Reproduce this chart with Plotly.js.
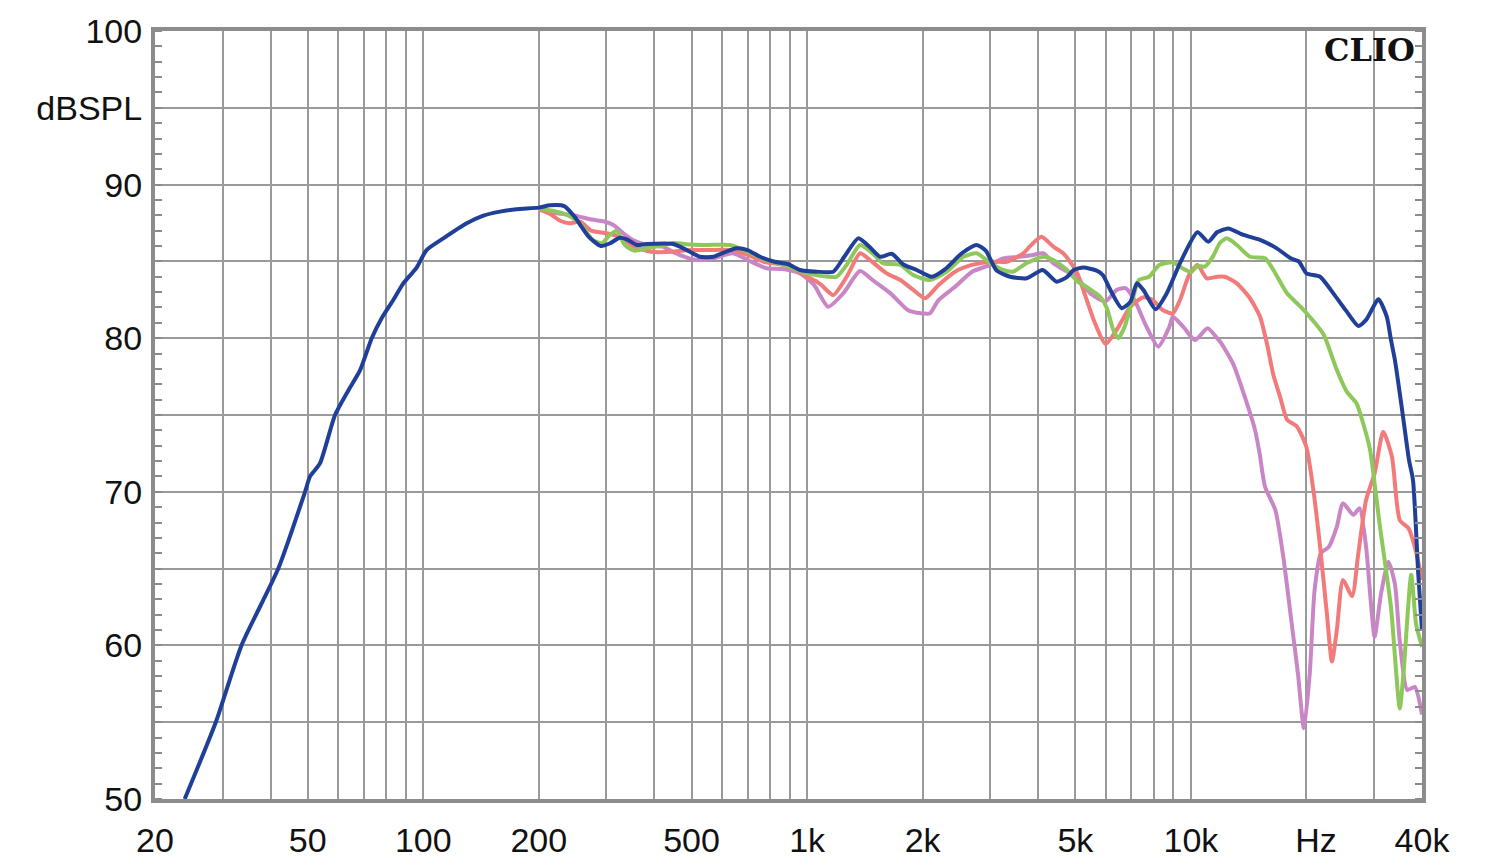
<!DOCTYPE html>
<html>
<head>
<meta charset="utf-8">
<script src="https://cdn.plot.ly/plotly-3.0.1.min.js"></script>
<style>html,body{margin:0;padding:0;background:#fff;}#chart{width:1500px;height:866px;}</style>
</head>
<body>
<div id="chart"></div>
<script>
// Frequencies (Hz) and SPL (dB)
const blueFreq = [23.9,28.8,33.6,41.9,49.2,50.7,53.8,58.9,63.8,68.4,73.4,77.9,83.6,88.7,96.1,102,112.8,129.8,143.4,158.5,175,200,213.9,233,248,270,290,306.6,325,339,360,382,448,485.6,526,570,600,656,700,754,823,890,958,1059,1170,1250,1360,1460,1550,1662,1781,1930,2112,2290,2530,2766,2920,3120,3380,3734,4110,4470,4760,4950,5244,5682,5900,6200,6604,6960,7226,7520,8090,8650,9372,10400,11100,11700,12520,13700,15140,16740,18200,19100,20000,21700,23500,25470,27300,28600,30800,32380,33200,34000,35500,37000,37900,39100,40000];
const blueDb = [50.0,55.0,60.0,65.0,70.0,71.0,71.85,75.0,76.6,77.9,80.0,81.3,82.5,83.57,84.6,85.74,86.5,87.48,87.98,88.24,88.4,88.5,88.65,88.6,87.9,86.6,86.0,86.18,86.54,86.44,86.07,86.13,86.13,85.74,85.3,85.3,85.53,85.85,85.74,85.3,84.98,84.83,84.44,84.33,84.33,85.3,86.5,85.9,85.3,85.5,84.8,84.44,84.0,84.5,85.53,86.07,85.7,84.4,84.0,83.9,84.44,83.68,84.0,84.44,84.6,84.4,84.1,83.03,81.95,82.38,83.57,83.14,81.88,82.92,84.9,86.9,86.28,86.9,87.15,86.72,86.4,85.85,85.2,85.0,84.22,84.0,82.92,81.73,80.8,81.19,82.53,81.4,79.9,78.58,75.33,72.07,70.76,64.7,61.0];

const greenFreq = [200,217,237,256,276,292,306,319,335,354,382,413,448,496,546,630,700,785,890,1000,1135,1195,1268,1374,1480,1575,1750,1890,2090,2312,2553,2766,3000,3240,3440,3734,4126,4380,4760,5060,5300,5590,5800,6040,6280,6470,6720,7040,7320,7780,8270,8970,9580,10000,10400,10860,11400,11900,12400,13170,14250,15600,16400,17800,19300,20900,22200,24000,25470,27000,28100,29300,31000,33200,35000,35800,37500,38600,40000];
const greenDb = [88.45,88.3,88.02,87.48,86.4,86.18,86.72,87.0,86.07,85.7,85.85,86.0,86.2,86.1,86.07,86.07,85.63,85.09,84.7,84.22,84.0,84.0,84.77,86.07,85.53,84.88,84.77,84.11,83.79,84.33,85.3,85.53,84.9,84.44,84.33,84.9,85.3,85.09,84.44,83.7,83.4,83.0,82.7,81.95,80.53,80.0,80.75,82.48,83.79,84.0,84.77,84.94,84.5,84.3,84.7,84.66,85.3,86.2,86.5,86.07,85.3,85.2,84.44,82.92,82.05,81.08,80.21,77.93,76.52,75.76,74.46,72.72,67.95,62.5,55.9,58.2,64.6,61.4,59.9];

const redFreq = [200,214,228,241,256,274,300,325,354,392,448,496,546,640,700,770,865,958,1000,1060,1090,1170,1268,1374,1458,1612,1750,1890,2030,2200,2430,2690,3000,3310,3660,3800,4080,4380,4650,4840,5060,5300,5620,5990,6400,6960,7520,7960,8440,8970,9372,9890,10400,11000,11700,12240,13170,14250,15140,15770,16400,17070,17800,18900,20000,20900,21700,22600,23300,24000,24900,26300,27300,28600,30100,31700,33400,35000,36900,38300,40000];
const redDb = [88.4,88.08,87.63,87.48,87.6,87.0,86.83,86.6,85.96,85.63,85.63,85.74,85.74,85.74,85.42,84.98,84.77,84.33,84.0,83.68,83.46,82.81,84.0,85.53,85.09,84.22,83.79,83.14,82.6,83.46,84.33,84.77,84.98,84.98,85.53,85.96,86.6,85.96,85.53,84.98,84.22,82.8,81.0,79.62,80.53,82.05,82.66,82.48,81.84,81.62,82.5,84.11,84.77,83.9,84.0,84.0,83.57,82.6,81.4,79.67,77.6,76.2,74.7,74.24,72.9,69.9,66.43,62.1,58.95,61.0,64.26,63.2,66.0,69.47,71.2,73.91,72.29,68.16,67.62,66.43,64.26];

const purpleFreq = [200,215,251,272,296,313,332,354,382,420,465,514,570,640,715,785,865,958,1040,1135,1242,1374,1480,1650,1830,1980,2090,2200,2430,2690,3000,3240,3580,3880,4126,4380,4650,5060,5480,5990,6400,6770,7130,7660,8220,8790,8970,9580,10250,11050,11700,12000,12900,13900,14700,15100,15600,16600,17400,18300,19000,19700,20400,21000,21800,22900,24000,24900,26500,27500,28600,29500,30100,31300,32700,34000,35000,36600,38300,40000];
const purpleDb = [88.4,88.2,87.96,87.74,87.6,87.37,86.83,86.35,86.07,85.96,85.42,85.09,85.2,85.53,84.98,84.55,84.5,84.22,83.5,82.05,82.92,84.37,83.79,82.92,81.84,81.62,81.62,82.48,83.35,84.33,84.77,85.2,85.3,85.42,85.53,84.88,84.48,83.9,82.9,82.4,83.14,83.25,82.48,80.75,79.45,80.75,81.4,80.7,79.88,80.64,80.0,79.67,78.3,75.98,74.0,72.5,70.33,68.8,65.78,61.44,58.18,54.6,58.18,63.6,66.0,66.43,67.73,69.25,68.5,68.93,66.43,62.5,60.56,63.4,65.45,64.0,60.3,57.1,57.3,55.5];

const xTickVals = [20,50,100,200,500,1000,2000,5000,10000,20000,40000];
const xTickText = ['20','50','100','200','500','1k','2k','5k','10k','\u00a0\u00a0Hz','40k'];
const xMinorVals = [30,40,60,70,80,90,300,400,600,700,800,900,3000,4000,6000,7000,8000,9000,30000];
const yTickVals = [50,55,60,65,70,75,80,85,90,95,100];
const yTickText = ['50','','60','','70','','80','','90','dBSPL','100'];

const mk = (x, y, color) => ({
  x: x, y: y, type: 'scatter', mode: 'lines',
  line: {color: color, width: 4, shape: 'spline', smoothing: 0.6},
  hoverinfo: 'skip', showlegend: false
});

const traces = [
  mk(purpleFreq, purpleDb, '#c986c6'),
  mk(redFreq, redDb, '#f27a7a'),
  mk(greenFreq, greenDb, '#8ec85a'),
  mk(blueFreq, blueDb, '#1f3f98')
];

const gridCol = '#9a9a9a';
const axisCol = '#8c8c8c';
const tickFont = {family: 'Liberation Sans, Arial, sans-serif', size: 34, color: '#111'};

const layout = {
  width: 1500, height: 866,
  margin: {l: 155, r: 78, t: 31, b: 67},
  paper_bgcolor: '#fff', plot_bgcolor: '#fff',
  xaxis: {
    type: 'log', range: [Math.log10(20), Math.log10(40000)],
    tickmode: 'array', tickvals: xTickVals, ticktext: xTickText,
    ticks: '', showgrid: true, gridcolor: gridCol, gridwidth: 2,
    minor: {tickmode: 'array', tickvals: xMinorVals, showgrid: true, gridcolor: gridCol, gridwidth: 2, ticks: ''},
    showline: true, linecolor: axisCol, linewidth: 4, mirror: true,
    zeroline: false, tickfont: tickFont, ticklabelstandoff: 8, fixedrange: true
  },
  yaxis: {
    range: [50, 100], tickmode: 'array', tickvals: yTickVals, ticktext: yTickText,
    ticks: '', showgrid: true, gridcolor: gridCol, gridwidth: 2,
    minor: {dtick: 1, ticks: 'inside', ticklen: 7, tickwidth: 2, tickcolor: axisCol, showgrid: false},
    showline: true, linecolor: axisCol, linewidth: 4, mirror: 'allticks',
    zeroline: false, tickfont: tickFont, ticklabelstandoff: 2, fixedrange: true
  },
  annotations: [{
    xref: 'paper', yref: 'paper', x: 0.996, y: 1.0, xanchor: 'right', yanchor: 'top',
    yshift: 2, text: '<b>CLIO</b>', showarrow: false,
    font: {family: 'DejaVu Serif, Liberation Serif, serif', size: 32, color: '#111'}
  }]
};

Plotly.newPlot('chart', traces, layout, {displayModeBar: false, staticPlot: true});
</script>
</body>
</html>
